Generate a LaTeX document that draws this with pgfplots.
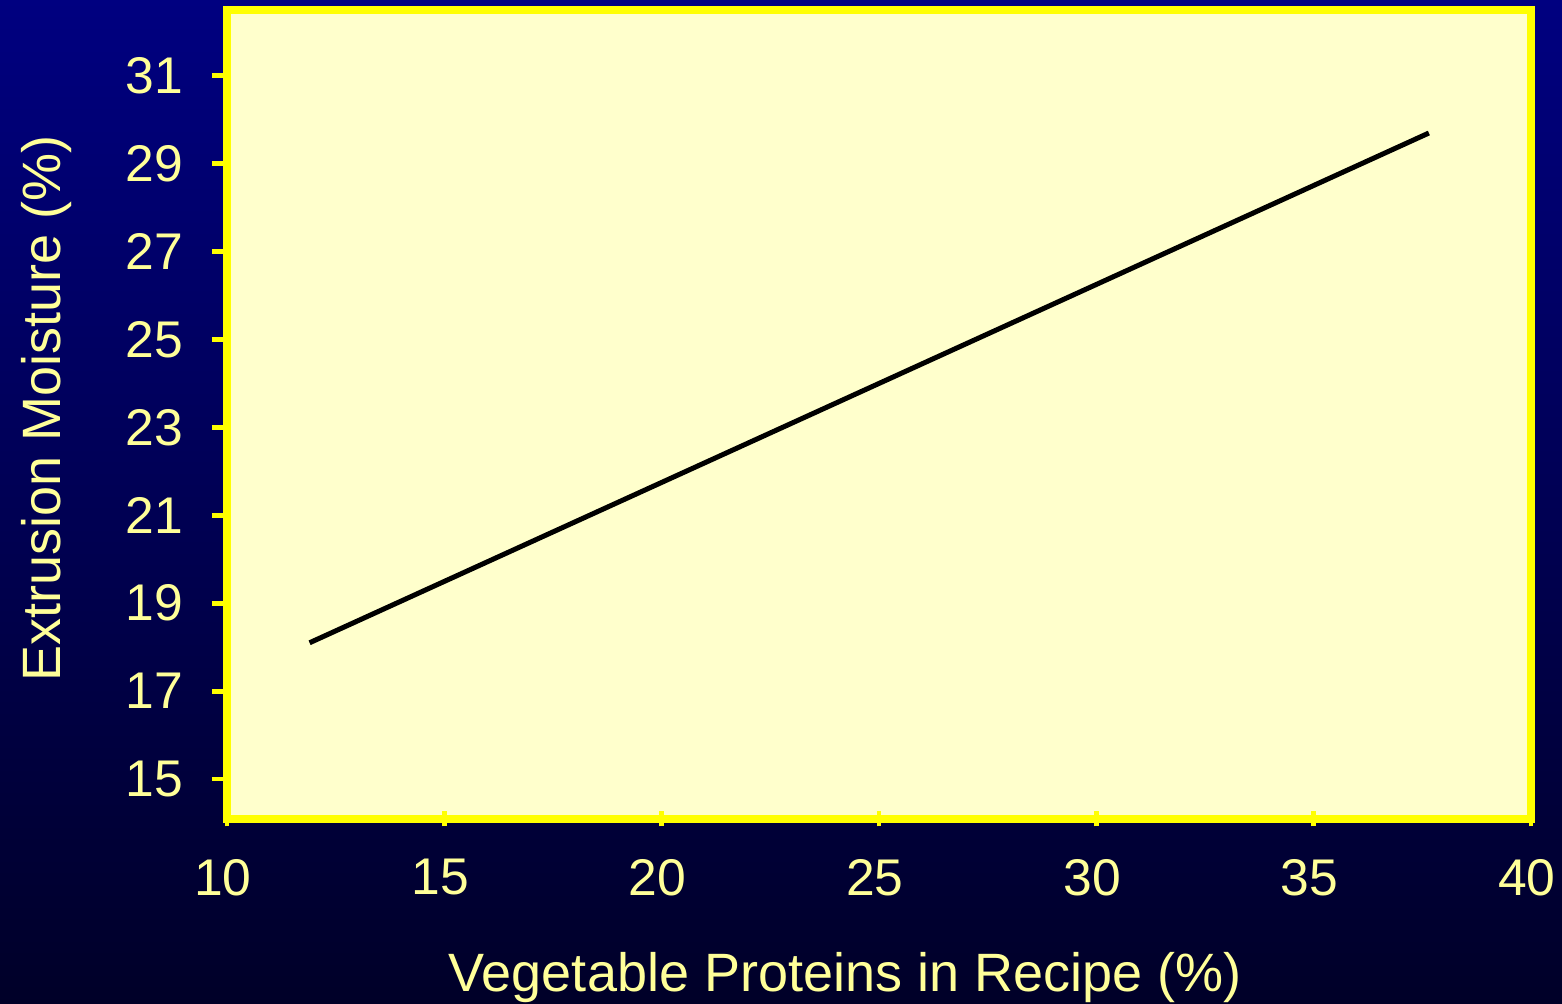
\documentclass[border=0pt]{standalone}
\usepackage{fontspec}
\setmainfont{Liberation Sans}
\usepackage{pgfplots}
\pgfplotsset{compat=1.18}
\definecolor{bgtop}{RGB}{0,0,128}
\definecolor{bgbot}{RGB}{0,0,40}
\definecolor{plotbg}{RGB}{255,255,204}
\definecolor{framecol}{RGB}{255,255,0}
\definecolor{labeltxt}{RGB}{255,255,153}
\begin{document}
\begin{tikzpicture}
% slide background
\shade[top color=bgtop, bottom color=bgbot] (0,0) rectangle (390.5pt,251pt);
\begin{axis}[
  at={(56.75pt,46.25pt)}, anchor=south west,
  scale only axis, width=326pt, height=202.25pt,
  xmin=10, xmax=40, ymin=14.09, ymax=32.5,
  xtick={10,15,...,40}, ytick={15,17,...,31},
  tick pos=left,
  axis background/.style={fill=plotbg},
  axis line style={framecol, line width=2pt},
  every tick/.style={framecol, line width=1.2pt},
  major tick length=3.75pt,
  ytick align=outside,
  xtick align=center,
  tick label style={font=\fontsize{12.9}{14}\selectfont, text=labeltxt},
  /pgf/number format/assume math mode=true,
  yticklabel style={xshift=-3.75pt},
  xticklabel style={yshift=-4.7pt, xshift=-1pt},
  label style={font=\fontsize{13.5}{16}\selectfont, text=labeltxt},
  xlabel={Vegetable Proteins in Recipe (\%)},
  ylabel={Extrusion Moisture (\%)},
  xlabel style={at={(axis description cs:0.474,-0.2138)}, anchor=base},
  ylabel style={at={(axis description cs:-0.128,0.507)}, anchor=base},
]
\addplot[black, line width=1.25pt] coordinates {(11.9,18.1) (37.65,29.7)};
\end{axis}
% the page is exactly the background panel
\pgfresetboundingbox
\useasboundingbox (0,0) rectangle (390.5pt,251pt);
\end{tikzpicture}
\end{document}
